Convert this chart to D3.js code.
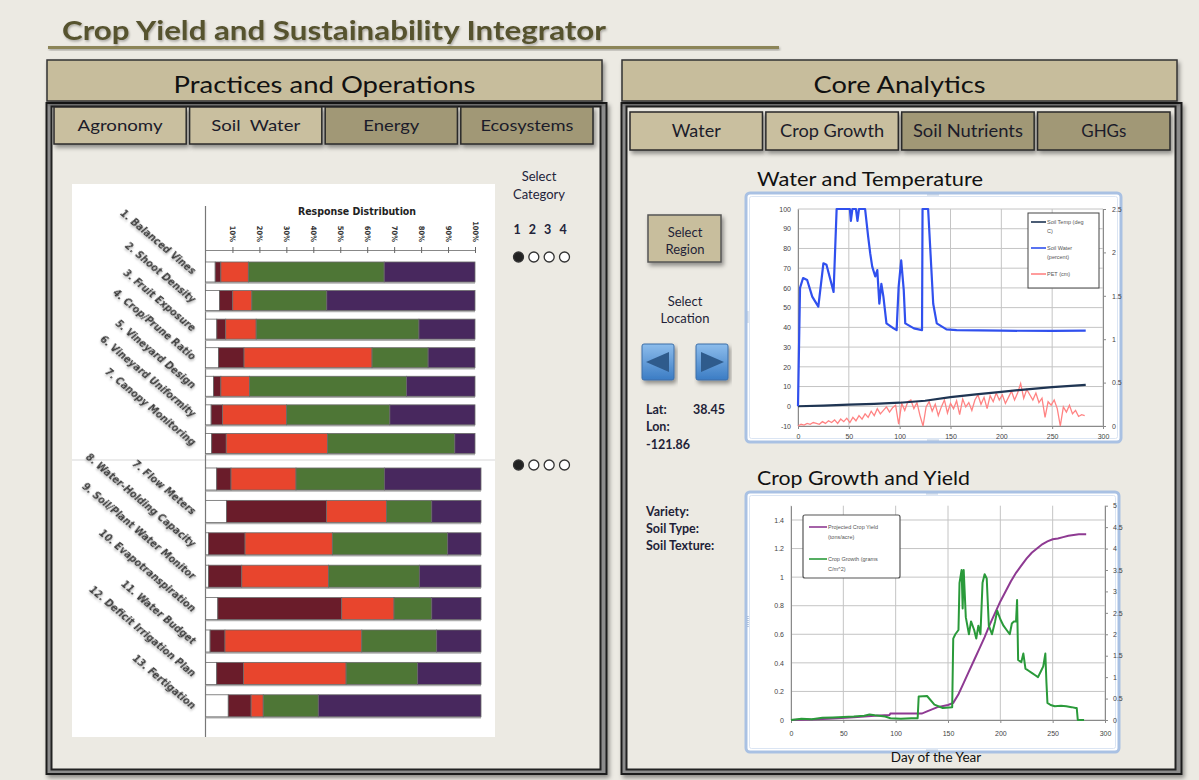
<!DOCTYPE html>
<html>
<head>
<meta charset="utf-8">
<script src="https://cdn.jsdelivr.net/npm/d3@7"></script>
<style>
body{margin:0;background:#ECEAE3;}
svg{display:block;font-family:Lato,"Open Sans",sans-serif;}
</style>
</head>
<body>
<script>
// ---- page texts ----
var titleText = "Crop Yield and Sustainability Integrator";
var leftTitle = "Practices and Operations";
var rightTitle = "Core Analytics";
var leftTabs = ["Agronomy", "Soil  Water", "Energy", "Ecosystems"];
var rightTabs = ["Water", "Crop Growth", "Soil Nutrients", "GHGs"];
var tabLight = [true, true, false, false];

// ---- response distribution (percent of responses) ----
var responseKeys = ["blank", "cat1", "cat2", "cat3", "cat4"];
var responseColors = ["#ffffff", "#6a1c2a", "#e8452d", "#4e7636", "#48285e"];
var pctTicks = [10, 20, 30, 40, 50, 60, 70, 80, 90, 100];
var categoryNums = ["1", "2", "3", "4"];

var topItems = ["1. Balanced Vines", "2. Shoot Density", "3. Fruit Exposure", "4. Crop/Prune Ratio",
	"5. Vineyard Design", "6. Vineyard Uniformity", "7. Canopy Monitoring"];
var topBlank = [3.6, 5.2, 4.2, 4.8, 3.0, 2.1, 2.3];
var topCat1 = [2.1, 4.9, 3.3, 9.5, 2.7, 4.2, 5.4];
var topCat2 = [10.2, 7.1, 11.3, 47.5, 10.6, 23.8, 37.6];
var topCat3 = [50.4, 27.8, 60.4, 20.8, 58.3, 38.3, 47.2];
var topCat4 = [33.7, 55.0, 20.8, 17.4, 25.4, 31.6, 7.5];

var bottomItems = ["7. Flow Meters", "8. Water-Holding Capacity", "9. Soil/Plant Water Monitor",
	"10. Evapotranspiration", "11. Water Budget", "12. Deficit Irrigation Plan", "13. Fertigation"];
var botBlank = [4.0, 7.6, 1.0, 1.0, 4.4, 1.6, 4.0, 8.2];
var botCat1 = [5.2, 36.3, 13.3, 12.1, 45.0, 5.4, 9.7, 8.3];
var botCat2 = [23.6, 21.8, 31.7, 31.5, 19.0, 49.7, 37.3, 4.4];
var botCat3 = [32.1, 16.4, 41.9, 33.0, 13.7, 27.2, 26.0, 20.0];
var botCat4 = [35.1, 17.9, 12.1, 22.4, 17.9, 16.1, 23.0, 59.1];

// ---- water and temperature ----
var dayTicks = [0, 50, 100, 150, 200, 250, 300];
var waterTicksL = [-10, 0, 10, 20, 30, 40, 50, 60, 70, 80, 90, 100];
var waterTicksR = [0, 0.5, 1, 1.5, 2, 2.5];
var soilWaterDays = [0, 2, 5, 9, 14, 20, 25, 28, 35, 38, 51, 52, 53.5, 57, 58.5, 60, 66, 69, 71, 73, 76, 78, 80, 82, 84, 87, 94, 97, 99, 101.5, 104, 105.5, 114, 122, 122.5, 128, 133, 136.5, 146, 156, 200, 250, 283];
var soilWaterVals = [0, 60, 65, 64, 55.6, 50.5, 72.5, 71.7, 58, 100, 100, 94, 100, 100, 94, 100, 100, 86, 77.6, 70.8, 65.8, 69, 52, 62, 55.6, 42, 39.5, 38.6, 60.7, 74, 59, 42, 39.5, 38.6, 100, 100, 52, 42, 39, 38.6, 38.3, 38.2, 38.3];
var soilTempDays = [0, 25, 50, 75, 100, 125, 150, 175, 200, 225, 250, 283];
var soilTempVals = [0, 0.3, 0.8, 1.2, 1.8, 2.8, 4.6, 6.0, 7.3, 8.6, 9.7, 10.8];
// PET (cm), one reading every 3 days from day 0
var petVals = [0.00, 0.02, 0.01, 0.03, 0.02, 0.04, 0.03, 0.02, 0.05, 0.03, 0.06, 0.04, 0.07, 0.03, 0.08, 0.05,
	0.09, 0.04, 0.10, 0.06, 0.12, 0.08, 0.14, 0.10, 0.17, 0.12, 0.20, 0.14, 0.18, 0.22, 0.16, 0.21, 0.24, 0.02,
	0.26, 0.18, 0.28, 0.30, 0.20, 0.27, 0.12, 0.00, 0.22, 0.28, 0.17, 0.25, 0.12, 0.22, 0.30, 0.15, 0.26, 0.20,
	0.29, 0.13, 0.31, 0.22, 0.27, 0.18, 0.30, 0.36, 0.25, 0.33, 0.20, 0.35, 0.28, 0.38, 0.30, 0.36, 0.26, 0.33,
	0.40, 0.30, 0.38, 0.49, 0.32, 0.42, 0.36, 0.30, 0.38, 0.27, 0.32, 0.10, 0.28, 0.24, 0.30, 0.20, 0.00, 0.22,
	0.16, 0.24, 0.14, 0.18, 0.11, 0.13, 0.12];

// ---- crop growth and yield ----
var cropTicksL = [0, 0.2, 0.4, 0.6, 0.8, 1, 1.2, 1.4];
var cropTicksR = [0, 0.5, 1, 1.5, 2, 2.5, 3, 3.5, 4, 4.5, 5];
var yieldDays = [0, 20, 40, 60, 80, 94, 95, 125, 130, 140, 150, 155, 160, 165, 170, 175, 180, 185, 190, 195, 200, 205, 210, 215, 220, 225, 230, 235, 240, 245, 250, 255, 260, 265, 270, 275, 282];
var yieldVals = [0, 0.003, 0.01, 0.02, 0.03, 0.035, 0.045, 0.045, 0.06, 0.09, 0.105, 0.12, 0.18, 0.26, 0.34, 0.42, 0.5, 0.58, 0.67, 0.75, 0.83, 0.9, 0.97, 1.03, 1.08, 1.13, 1.17, 1.2, 1.23, 1.25, 1.265, 1.27, 1.28, 1.29, 1.295, 1.3, 1.3];
var growthDays = [0, 10, 20, 30, 40, 50, 60, 70, 75, 80, 90, 95, 105, 115, 121, 122, 130, 137, 145, 154,
	155, 157, 160, 161, 163, 164, 165, 167, 170, 172, 175, 177, 179, 181, 183, 185, 187, 189, 192, 195,
	197, 200, 203, 206, 209, 211, 213, 215, 216, 217, 220, 222, 224, 227, 230, 233, 236, 239, 241, 243,
	244, 245, 248, 252, 258, 263, 268, 272, 273, 274, 280];
var growthVals = [0, 0.03, 0.02, 0.05, 0.06, 0.07, 0.08, 0.1, 0.13, 0.11, 0.08, 0.04, 0.03, 0.04, 0.04, 0.55, 0.56, 0.36, 0.28, 0.3,
	1.9, 2.0, 2.1, 3.2, 3.5, 2.6, 3.5, 2.4, 2.0, 2.3, 2.1, 1.9, 2.2, 2.0, 3.2, 3.4, 3.3, 2.2, 2.0, 2.3,
	2.55, 2.35, 2.2, 2.1, 2.0, 2.25, 2.3, 2.3, 2.8, 1.4, 1.35, 1.55, 1.2, 1.15, 1.1, 1.05, 1.0, 1.15, 1.25, 1.55,
	0.9, 0.4, 0.35, 0.32, 0.33, 0.32, 0.3, 0.28, 0.28, 0.0, 0.0];

//
var svg = d3.select("body").append("svg").attr("width", 1199).attr("height", 780);
var defs = svg.append("defs");
var drop = defs.append("filter").attr("id", "drop").attr("x", "-5%").attr("y", "-10%").attr("width", "115%").attr("height", "140%");
drop.append("feDropShadow").attr("dx", 2).attr("dy", 3).attr("stdDeviation", 2).attr("flood-color", "#000").attr("flood-opacity", 0.4);
var tshadow = defs.append("filter").attr("id", "tshadow").attr("x", "-5%").attr("y", "-30%").attr("width", "115%").attr("height", "180%");
tshadow.append("feDropShadow").attr("dx", 1).attr("dy", 1.5).attr("stdDeviation", 1).attr("flood-color", "#000").attr("flood-opacity", 0.3);
var blueGrad = defs.append("linearGradient").attr("id", "blueBtn").attr("x1", 0).attr("y1", 0).attr("x2", 0).attr("y2", 1);
blueGrad.append("stop").attr("offset", "0%").attr("stop-color", "#8dbdec");
blueGrad.append("stop").attr("offset", "100%").attr("stop-color", "#3b7cc4");

svg.append("rect").attr("width", 1199).attr("height", 780).attr("fill", "#ECEAE3");

// title with underline
svg.append("rect").attr("x", 48).attr("y", 46).attr("width", 731).attr("height", 3)
	.attr("fill", "#8c8558").attr("filter", "url(#tshadow)");
svg.append("text").attr("x", 62).attr("y", 40).text(titleText)
	.attr("font-size", 26).attr("font-weight", 700).attr("fill", "#56522f")
	.attr("textLength", 544).attr("lengthAdjust", "spacingAndGlyphs").attr("filter", "url(#tshadow)");

// panels
function drawPanel(x0, title, titleW, tabs, tabY, tabH, tabSize, tabWidths) {
	var g = svg.append("g");
	g.append("rect").attr("x", x0 - 0.5).attr("y", 103).attr("width", 560).attr("height", 671)
		.attr("fill", "#8c8c8c").attr("stroke", "#1e1e1e").attr("stroke-width", 2).attr("filter", "url(#drop)");
	g.append("rect").attr("x", x0 + 4.5).attr("y", 106.5).attr("width", 549).attr("height", 663)
		.attr("fill", "#ECEAE3").attr("stroke", "#222").attr("stroke-width", 2);
	g.append("rect").attr("x", x0).attr("y", 60).attr("width", 555).attr("height", 41)
		.attr("fill", "#c7bd9c").attr("stroke", "#333").attr("stroke-width", 1.5).attr("filter", "url(#drop)");
	g.append("text").attr("x", x0 + 277.5).attr("y", 93).attr("text-anchor", "middle")
		.attr("font-size", 23).attr("fill", "#111").text(title)
		.attr("textLength", titleW).attr("lengthAdjust", "spacingAndGlyphs");
	//
	var band = d3.scaleBand().domain(tabs).range([x0 + (tabY === 107 ? 7 : 8), x0 + (tabY === 107 ? 546 : 548)]).paddingInner(0.025);
	var tg = g.selectAll("g.tab").data(tabs).enter().append("g").attr("class", "tab");
	tg.append("rect").attr("x", function(d){ return band(d); }).attr("y", tabY)
		.attr("width", band.bandwidth()).attr("height", tabH)
		.attr("fill", function(d, i){ return tabLight[i] ? "#c9bf9f" : "#a19876"; })
		.attr("stroke", "#2a2a2a").attr("stroke-width", 1.5).attr("filter", "url(#drop)");
	tg.append("text").attr("x", function(d){ return band(d) + band.bandwidth() / 2; })
		.attr("y", tabY + tabH / 2 + 5.5).attr("text-anchor", "middle")
		.attr("font-size", tabSize).attr("fill", "#1c1c2a").style("white-space", "pre")
		.attr("textLength", function(d, i){ return tabWidths[i]; }).attr("lengthAdjust", "spacingAndGlyphs")
		.text(function(d){ return d; });
	return g;
}
drawPanel(47, leftTitle, 302, leftTabs, 107, 37, 16, [85, 89, 56, 93]);
drawPanel(622, rightTitle, 172, rightTabs, 112, 38, 16.5, [49, 104, 110, 45]);

// ---- response distribution chart ----
var bar = svg.append("g");
bar.append("rect").attr("x", 72).attr("y", 184).attr("width", 423).attr("height", 553).attr("fill", "#fff");
bar.append("line").attr("x1", 72).attr("x2", 495).attr("y1", 460).attr("y2", 460).attr("stroke", "#e4e4e4").attr("stroke-width", 1.5);

var xTop = d3.scaleLinear().domain([0, 100]).range([205.5, 475]);
var xBot = d3.scaleLinear().domain([0, 100]).range([205.7, 481]);
var yTop = d3.scaleBand().domain(d3.range(topItems.length)).range([257.7, 457.7]).paddingInner(0.3).paddingOuter(0.15);
var yBot = d3.scaleBand().domain(d3.range(botBlank.length)).range([462.8, 722]).paddingInner(0.32).paddingOuter(0.16);

bar.append("text").attr("x", 357).attr("y", 215).attr("text-anchor", "middle")
	.attr("font-family", "'Liberation Sans Narrow','DejaVu Sans Condensed',sans-serif")
	.attr("font-size", 10.5).attr("font-weight", 700).attr("fill", "#222").text("Response Distribution");

var pctAxis = bar.append("g").attr("transform", "translate(0,250)")
	.call(d3.axisTop(xTop).tickValues(pctTicks).tickSizeInner(3).tickSizeOuter(0).tickFormat(function(d){ return d + "%"; }));
pctAxis.select(".domain").attr("stroke", "#888");
pctAxis.selectAll(".tick line").attr("stroke", "#666").attr("y2", 3).attr("y1", -3);
pctAxis.selectAll("text").attr("transform", "rotate(90)").attr("y", 0).attr("x", -8).attr("dy", "0.35em")
	.style("text-anchor", "end").attr("font-size", 7.5).attr("font-weight", 700).attr("fill", "#333")
	.attr("font-family", "'Liberation Sans Narrow','DejaVu Sans Condensed',sans-serif");

bar.append("line").attr("x1", 205.5).attr("x2", 205.5).attr("y1", 206).attr("y2", 737).attr("stroke", "#777").attr("stroke-width", 1.2);

function drawStack(rows, xs, ys) {
	var series = d3.stack().keys(responseKeys)(rows);
	// row base lines
	bar.append("g").selectAll("line").data(rows).enter().append("line")
		.attr("x1", xs(0)).attr("x2", xs(100))
		.attr("y1", function(d, i){ return ys(i) + ys.bandwidth() + 1; })
		.attr("y2", function(d, i){ return ys(i) + ys.bandwidth() + 1; })
		.attr("stroke", "#b0b0b0").attr("stroke-width", 1.5);
	bar.append("g").selectAll("g").data(series).enter().append("g")
		.attr("fill", function(d, i){ return responseColors[i]; })
		.selectAll("rect").data(function(d){ return d; }).enter().append("rect")
		.attr("x", function(d){ return xs(d[0]); })
		.attr("width", function(d){ return xs(d[1]) - xs(d[0]); })
		.attr("y", function(d, i){ return ys(i); })
		.attr("height", ys.bandwidth())
		.attr("stroke", "#6a6a6a").attr("stroke-width", 0.8);
}
drawStack(topBlank.map(function(d, i){
	return {blank: topBlank[i], cat1: topCat1[i], cat2: topCat2[i], cat3: topCat3[i], cat4: topCat4[i]};
}), xTop, yTop);
drawStack(botBlank.map(function(d, i){
	return {blank: botBlank[i], cat1: botCat1[i], cat2: botCat2[i], cat3: botCat3[i], cat4: botCat4[i]};
}), xBot, yBot);

// slanted item labels
function drawItemLabels(items, ys, offset, dy) {
	bar.append("g").selectAll("text").data(items).enter().append("text")
		.attr("transform", function(d, i){
			return "translate(192," + (ys(i + offset) + ys.bandwidth() / 2 + dy) + ") rotate(40)";
		})
		.attr("text-anchor", "end")
		.attr("font-family", "'Liberation Sans Narrow','DejaVu Sans Condensed',sans-serif")
		.attr("font-size", 10.5).attr("font-weight", 700).attr("font-style", "italic")
		.attr("fill", "#3a3a3a").attr("filter", "url(#tshadow)")
		.text(function(d){ return d; });
}
drawItemLabels(topItems, yTop, 0, 3);
drawItemLabels(bottomItems, yBot, 1, 4);

// category selector
var sel = svg.append("g").attr("fill", "#23233a").attr("font-size", 13).attr("text-anchor", "middle");
sel.append("text").attr("x", 539).attr("y", 181).text("Select");
sel.append("text").attr("x", 539).attr("y", 199).text("Category");
var catX = d3.scalePoint().domain(categoryNums).range([517, 563]);
sel.selectAll("text.num").data(categoryNums).enter().append("text").attr("class", "num")
	.attr("x", function(d){ return catX(d); }).attr("y", 234).attr("font-size", 12.5).attr("font-weight", 700)
	.text(function(d){ return d; });
[257, 465].forEach(function(cy){
	sel.append("g").selectAll("circle").data(categoryNums).enter().append("circle")
		.attr("cx", function(d){ return catX(d) + 1.5; }).attr("cy", cy).attr("r", 5)
		.attr("fill", function(d, i){ return i === 0 ? "#222" : "#fff"; })
		.attr("stroke", "#333").attr("stroke-width", 1.3);
});

// ---- right side controls ----
var ctl = svg.append("g").attr("fill", "#1f1f38").attr("font-size", 13);
ctl.append("rect").attr("x", 648).attr("y", 215).attr("width", 73).attr("height", 47)
	.attr("fill", "#c8be9d").attr("stroke", "#555").attr("stroke-width", 1.5).attr("filter", "url(#drop)");
ctl.append("text").attr("x", 685).attr("y", 237).attr("text-anchor", "middle").text("Select");
ctl.append("text").attr("x", 685).attr("y", 254).attr("text-anchor", "middle").text("Region");
ctl.append("text").attr("x", 685).attr("y", 306).attr("text-anchor", "middle").text("Select");
ctl.append("text").attr("x", 685).attr("y", 323).attr("text-anchor", "middle").text("Location");
[[642, -1], [696, 1]].forEach(function(b){
	var bx = b[0], cx = bx + 16, cy = 362;
	ctl.append("rect").attr("x", bx).attr("y", 344).attr("width", 32).attr("height", 36).attr("rx", 2)
		.attr("fill", "url(#blueBtn)").attr("stroke", "#3d6fa8").attr("stroke-width", 1).attr("filter", "url(#drop)");
	ctl.append("path").attr("d", d3.line()([[cx + b[1] * 12, cy], [cx - b[1] * 11, cy - 10], [cx - b[1] * 11, cy + 10]]) + "Z")
		.attr("fill", "#2f5b8c");
});
var info = ctl.append("g").attr("font-weight", 700).attr("font-size", 12.5);
info.append("text").attr("x", 646).attr("y", 414).text("Lat:");
info.append("text").attr("x", 693).attr("y", 414).text("38.45");
info.append("text").attr("x", 646).attr("y", 431).text("Lon:");
info.append("text").attr("x", 646).attr("y", 449).text("-121.86");
info.append("text").attr("x", 646).attr("y", 516).text("Variety:");
info.append("text").attr("x", 646).attr("y", 533).text("Soil Type:");
info.append("text").attr("x", 646).attr("y", 550).text("Soil Texture:");

// ---- chart frames ----
function chartFrame(x, y, w, h, title, titleY, titleW) {
	svg.append("text").attr("x", 757).attr("y", titleY).attr("font-size", 19).attr("fill", "#111")
		.attr("textLength", titleW).attr("lengthAdjust", "spacingAndGlyphs").text(title);
	svg.append("rect").attr("x", x).attr("y", y).attr("width", w).attr("height", h).attr("rx", 4)
		.attr("fill", "#fff").attr("stroke", "#a9c1e3").attr("stroke-width", 3);
	svg.append("rect").attr("x", x + 3.5).attr("y", y + 3.5).attr("width", w - 7).attr("height", h - 7).attr("rx", 2)
		.attr("fill", "none").attr("stroke", "#dbe5f3").attr("stroke-width", 1);
	svg.append("line").attr("x1", x + w / 2 - 6).attr("x2", x + w / 2 + 6).attr("y1", y + 2).attr("y2", y + 2)
		.attr("stroke", "#7f9cc4").attr("stroke-dasharray", "1,1");
	svg.append("line").attr("x1", x + w / 2 - 6).attr("x2", x + w / 2 + 6).attr("y1", y + h - 2).attr("y2", y + h - 2)
		.attr("stroke", "#7f9cc4").attr("stroke-dasharray", "1,1");
	svg.append("line").attr("x1", x + 2).attr("x2", x + 2).attr("y1", y + h / 2 - 6).attr("y2", y + h / 2 + 6)
		.attr("stroke", "#7f9cc4").attr("stroke-dasharray", "1,1");
}
chartFrame(746, 193, 375, 249, "Water and Temperature", 186, 226);
chartFrame(746, 492, 373, 260, "Crop Growth and Yield", 485, 213);

function plainNum(d) { return String(d); }
function styleAxis(g) {
	g.selectAll("text").attr("font-size", 7).attr("fill", "#444").attr("font-family", "'Liberation Sans',Arial,sans-serif");
	g.select(".domain").attr("stroke", "#8a8a8a");
	g.selectAll(".tick line").attr("stroke", "#8a8a8a");
}
function grid(g, xs, ys, xt, yt) {
	g.append("g").selectAll("line").data(yt).enter().append("line")
		.attr("x1", xs.range()[0]).attr("x2", xs.range()[1])
		.attr("y1", function(d){ return ys(d); }).attr("y2", function(d){ return ys(d); })
		.attr("stroke", "#c4c4c4").attr("stroke-width", 1);
	g.append("g").selectAll("line").data(xt).enter().append("line")
		.attr("y1", ys.range()[0]).attr("y2", ys.range()[1])
		.attr("x1", function(d){ return xs(d); }).attr("x2", function(d){ return xs(d); })
		.attr("stroke", "#c4c4c4").attr("stroke-width", 1);
}

// water and temperature
var wx = d3.scaleLinear().domain([0, 300]).range([798, 1103]);
var wyL = d3.scaleLinear().domain([-10, 100]).range([426, 209]);
var wyR = d3.scaleLinear().domain([0, 2.5]).range([426, 209]);
var wg = svg.append("g");
grid(wg, wx, wyL, dayTicks, waterTicksL);
styleAxis(wg.append("g").attr("transform", "translate(798,0)").call(d3.axisLeft(wyL).tickValues(waterTicksL).tickFormat(plainNum).tickSize(0).tickPadding(7)));
styleAxis(wg.append("g").attr("transform", "translate(1103,0)").call(d3.axisRight(wyR).tickValues(waterTicksR).tickFormat(plainNum).tickSizeInner(3).tickSizeOuter(0).tickPadding(6)));
styleAxis(wg.append("g").attr("transform", "translate(0,426)").call(d3.axisBottom(wx).tickValues(dayTicks).tickFormat(plainNum).tickSizeInner(3).tickSizeOuter(0).tickPadding(5)));

wg.append("path").datum(petVals).attr("fill", "none").attr("stroke", "#ff8383").attr("stroke-width", 1.3)
	.attr("d", d3.line().x(function(d, i){ return wx(i * 3); }).y(function(d){ return wyR(d); }));
wg.append("path").datum(soilTempDays).attr("fill", "none").attr("stroke", "#1f3553").attr("stroke-width", 2.2)
	.attr("d", d3.line().x(function(d){ return wx(d); }).y(function(d, i){ return wyL(soilTempVals[i]); }));
wg.append("path").datum(soilWaterDays).attr("fill", "none").attr("stroke", "#3050ee").attr("stroke-width", 2.2)
	.attr("stroke-linejoin", "round")
	.attr("d", d3.line().x(function(d){ return wx(d); }).y(function(d, i){ return wyL(soilWaterVals[i]); }));

// legend
var wl = wg.append("g").attr("font-size", 5.5).attr("fill", "#555").attr("font-family", "'Liberation Sans',Arial,sans-serif");
wl.append("rect").attr("x", 1028).attr("y", 213).attr("width", 71).attr("height", 75).attr("fill", "#fff").attr("stroke", "#444");
[["#1f3553", 222, ["Soil Temp (deg", "C)"]], ["#3050ee", 248, ["Soil Water", "(percent)"]], ["#ff8383", 274, ["PET (cm)"]]].forEach(function(it){
	wl.append("line").attr("x1", 1031).attr("x2", 1046).attr("y1", it[1]).attr("y2", it[1]).attr("stroke", it[0]).attr("stroke-width", 1.6);
	it[2].forEach(function(t, j){
		wl.append("text").attr("x", 1047).attr("y", it[1] + 2 + j * 9).text(t);
	});
});

// crop growth and yield
var cx = d3.scaleLinear().domain([0, 300]).range([791, 1105]);
var cyL = d3.scaleLinear().domain([0, 1.5]).range([720, 505.7]);
var cyR = d3.scaleLinear().domain([0, 5]).range([720, 505.7]);
var cg = svg.append("g");
grid(cg, cx, cyL, dayTicks, cropTicksL);
styleAxis(cg.append("g").attr("transform", "translate(791,0)").call(d3.axisLeft(cyL).tickValues(cropTicksL).tickFormat(plainNum).tickSize(0).tickPadding(7)));
styleAxis(cg.append("g").attr("transform", "translate(1105,0)").call(d3.axisRight(cyR).tickValues(cropTicksR).tickFormat(plainNum).tickSizeInner(3).tickSizeOuter(0).tickPadding(5)));
styleAxis(cg.append("g").attr("transform", "translate(0,720)").call(d3.axisBottom(cx).tickValues(dayTicks).tickFormat(plainNum).tickSizeInner(3).tickSizeOuter(0).tickPadding(8)));

cg.append("path").datum(yieldDays).attr("fill", "none").attr("stroke", "#8e3a92").attr("stroke-width", 2)
	.attr("d", d3.line().x(function(d){ return cx(d); }).y(function(d, i){ return cyL(yieldVals[i]); }));
cg.append("path").datum(growthDays).attr("fill", "none").attr("stroke", "#2a9a3a").attr("stroke-width", 2)
	.attr("stroke-linejoin", "round")
	.attr("d", d3.line().x(function(d){ return cx(d); }).y(function(d, i){ return cyR(growthVals[i]); }));

var cl = cg.append("g").attr("font-size", 5.5).attr("fill", "#555").attr("font-family", "'Liberation Sans',Arial,sans-serif");
cl.append("rect").attr("x", 803).attr("y", 515).attr("width", 97).attr("height", 63).attr("rx", 2).attr("fill", "#fff").attr("stroke", "#555").attr("stroke-width", 1.2);
[["#8e3a92", 527, ["Projected Crop Yield", "(tons/acre)"]], ["#2a9a3a", 559, ["Crop Growth (grams", "C/m^2)"]]].forEach(function(it){
	cl.append("line").attr("x1", 809).attr("x2", 827).attr("y1", it[1]).attr("y2", it[1]).attr("stroke", it[0]).attr("stroke-width", 1.6);
	it[2].forEach(function(t, j){
		cl.append("text").attr("x", 828).attr("y", it[1] + 2 + j * 10).text(t);
	});
});

svg.append("text").attr("x", 936).attr("y", 762).attr("text-anchor", "middle").attr("font-size", 13.5).attr("fill", "#111").text("Day of the Year");
</script>
</body>
</html>
